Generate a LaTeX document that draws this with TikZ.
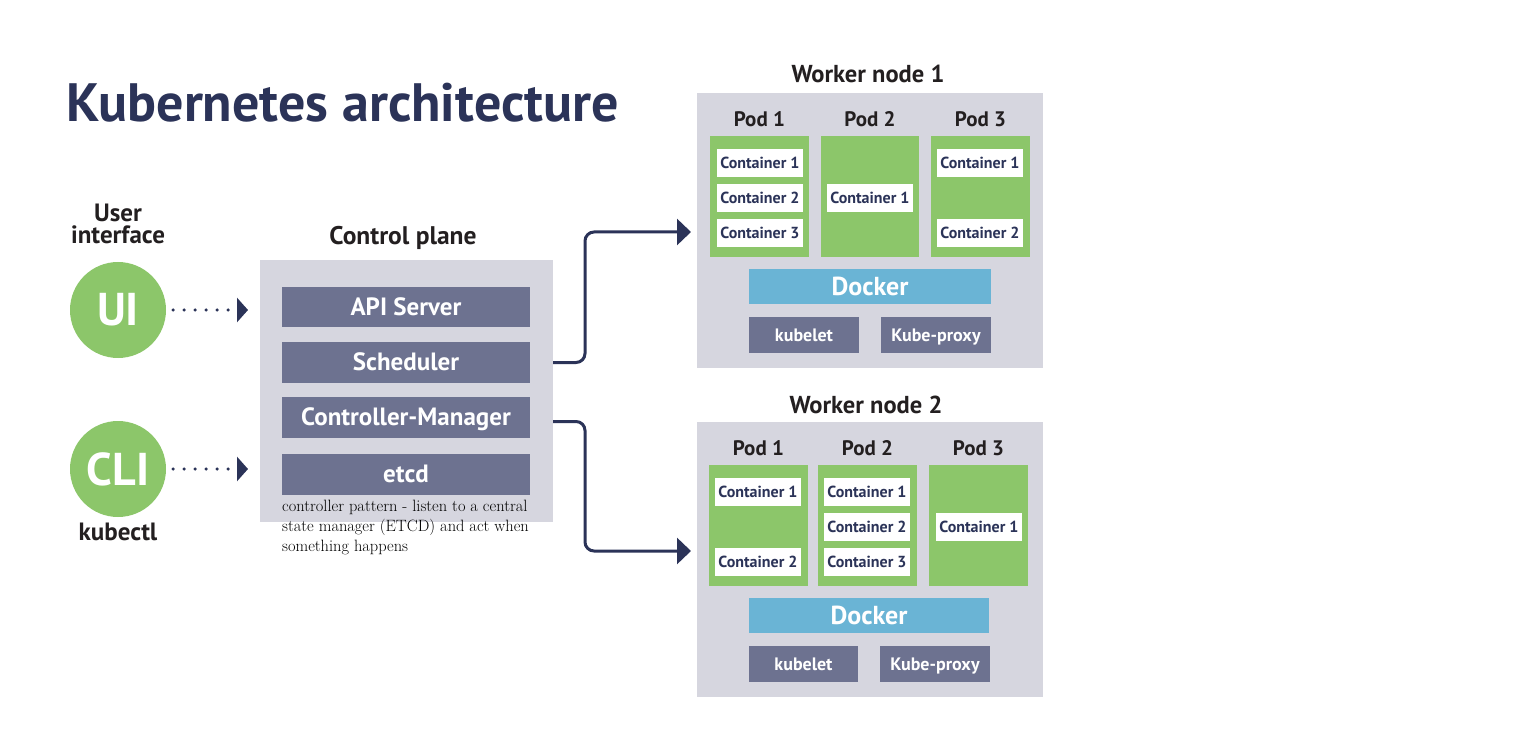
\documentclass[tikz,border=0pt]{standalone}
\usepackage{fontspec}
\setsansfont{PT Sans}
\usetikzlibrary{arrows.meta,calc}
\definecolor{bggray}{HTML}{D6D6DF}
\definecolor{compcol}{HTML}{6D7290}
\definecolor{podgreen}{HTML}{8CC66A}
\definecolor{dockblue}{HTML}{6AB4D5}
\definecolor{navy}{HTML}{2B3358}
\definecolor{darktext}{HTML}{231F20}
\newcommand{\fsz}[1]{\fontsize{#1}{#1}\selectfont}
\begin{document}
\begin{tikzpicture}[x=1pt,y=-1pt,
  blk/.style={inner sep=0pt, outer sep=0pt, draw=none, anchor=center},
  bgbox/.style={blk, fill=bggray},
  comp/.style={blk, fill=compcol, text=white, font=\sffamily\bfseries\fsz{25}, text height=16.5pt, text depth=0pt},
  small/.style={blk, fill=compcol, text=white, font=\sffamily\bfseries\fsz{18}, minimum width=110pt, minimum height=36pt, text height=13pt, text depth=0pt},
  pod/.style={blk, fill=podgreen, minimum width=99pt, minimum height=121pt},
  cont/.style={blk, fill=white, text=navy, font=\sffamily\bfseries\fsz{16}, minimum width=86pt, minimum height=28pt},
  dock/.style={blk, fill=dockblue, text=white, font=\sffamily\bfseries\fsz{26}, minimum width=242pt, minimum height=35pt},
  heading/.style={text=darktext, font=\sffamily\bfseries\fsz{24.5}, inner sep=0pt},
  podlbl/.style={text=darktext, font=\sffamily\bfseries\fsz{21}, inner sep=0pt},
  circ/.style={circle, fill=podgreen, minimum size=96pt, inner sep=0pt, text=white, font=\sffamily\bfseries\fsz{46}},
  dotarrow/.style={navy, line width=3.5pt, line cap=round, dash pattern=on 0pt off 11pt, -{Triangle[length=11pt,width=24pt]}},
  conn/.style={navy, line width=3pt, rounded corners=9pt, -{Triangle[length=14pt,width=26pt]}}
]
\useasboundingbox (0,0) rectangle (1521,751);

% Title
\node[anchor=west, text=navy, font=\sffamily\bfseries\fsz{54}, inner sep=0pt] (title) at (66,103) {Kubernetes architecture};

% User interface side
\node[heading, align=center, font=\sffamily\bfseries\fontsize{25}{22}\selectfont] (uilbl) at (118,224) {User\\interface};
\node[circ] (ui) at (118,310) {UI};
\node[circ] (cli) at (118,469) {CLI};
\node[heading, font=\sffamily\bfseries\fsz{25}] (kubectl) at (118,532) {kubectl};

% Control plane
\node[bgbox, minimum width=293pt, minimum height=262pt] (cp) at (406.5,391) {};
\node[heading, font=\sffamily\bfseries\fsz{25.5}] (cptitle) at (403,238) {Control plane};
\node[comp, minimum width=248pt, minimum height=40pt] (api) at (406,307) {API Server};
\node[comp, minimum width=248pt, minimum height=41pt] (sched) at (406,362.5) {Scheduler};
\node[comp, minimum width=248pt, minimum height=41pt] (cm) at (406,417.5) {Controller-Manager};
\node[comp, minimum width=248pt, minimum height=41pt] (etcd) at (406,474.5) {etcd};
\node[anchor=north west, align=left, inner sep=0pt, font=\fontsize{16.4}{20}\selectfont, text=black] (note) at (282,500)
  {controller pattern - listen to a central\\ state manager (ETCD) and act when\\ something happens};

% dotted arrows
\draw[dotarrow, shorten <=7pt, shorten >=12pt] (ui.east) -- (ui.east -| cp.west);
\draw[dotarrow, shorten <=7pt, shorten >=12pt] (cli.east) -- (cli.east -| cp.west);

% Worker node 1
\node[bgbox, minimum width=346pt, minimum height=275pt] (wn1) at (870,230.5) {};
\node[heading] (wn1title) at (868,74) {Worker node 1};
\node[podlbl] (w1p1l) at (759.5,119) {Pod 1};
\node[podlbl] (w1p2l) at (870,119) {Pod 2};
\node[podlbl] (w1p3l) at (980.5,119) {Pod 3};
\node[pod] (w1p1) at (759.5,196.5) {};
\node[pod, minimum width=98pt] (w1p2) at (870,196.5) {};
\node[pod] (w1p3) at (980.5,196.5) {};
\node[cont] (w1c11) at (760,163) {Container 1};
\node[cont] (w1c12) at (760,198) {Container 2};
\node[cont] (w1c13) at (760,233) {Container 3};
\node[cont] (w1c21) at (870,198) {Container 1};
\node[cont] (w1c31) at (980,163) {Container 1};
\node[cont] (w1c32) at (980,233) {Container 2};
\node[dock] (w1dock) at (870,286.5) {Docker};
\node[small] (w1kl) at (804,335) {kubelet};
\node[small] (w1kp) at (936,335) {Kube-proxy};

% Worker node 2
\node[bgbox, minimum width=346pt, minimum height=275pt] (wn2) at (870,559.5) {};
\node[heading] (wn2title) at (866,405) {Worker node 2};
\node[podlbl] (w2p1l) at (758.5,448) {Pod 1};
\node[podlbl] (w2p2l) at (867.5,448) {Pod 2};
\node[podlbl] (w2p3l) at (978.5,448) {Pod 3};
\node[pod] (w2p1) at (758.5,525.5) {};
\node[pod] (w2p2) at (867.5,525.5) {};
\node[pod] (w2p3) at (978.5,525.5) {};
\node[cont] (w2c11) at (758,492) {Container 1};
\node[cont] (w2c12) at (758,562) {Container 2};
\node[cont] (w2c21) at (867,492) {Container 1};
\node[cont] (w2c22) at (867,527) {Container 2};
\node[cont] (w2c23) at (867,562) {Container 3};
\node[cont] (w2c31) at (979,527) {Container 1};
\node[dock, minimum width=240pt] (w2dock) at (869,615.5) {Docker};
\node[small, minimum width=109pt] (w2kl) at (803.5,664) {kubelet};
\node[small] (w2kp) at (935,664) {Kube-proxy};

% connectors
\draw[conn, shorten >=6pt] (sched.east -| cp.east) -- ++(32,0) |- ([yshift=-1.5pt]wn1.west);
\draw[conn, shorten >=6pt] ([yshift=-4pt]cm.east -| cp.east) -- ++(32,0) |- ([yshift=8.5pt]wn2.west);
\end{tikzpicture}
\end{document}
